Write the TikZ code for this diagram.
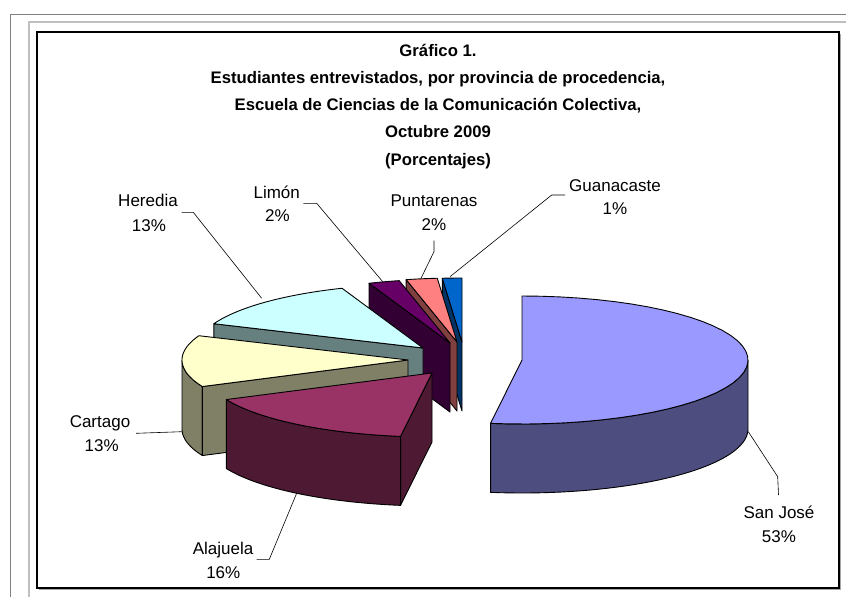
\documentclass[tikz,border=0pt]{standalone}
\usepackage{fontspec}
\setmainfont{Liberation Sans}
\definecolor{sjT}{HTML}{9999FF}\definecolor{sjS}{HTML}{4D4D80}
\definecolor{alT}{HTML}{993366}\definecolor{alS}{HTML}{4D1933}
\definecolor{caT}{HTML}{FFFFCC}\definecolor{caS}{HTML}{808066}
\definecolor{heT}{HTML}{CCFFFF}\definecolor{heS}{HTML}{668080}
\definecolor{liT}{HTML}{660066}\definecolor{liS}{HTML}{330033}
\definecolor{puT}{HTML}{FF8080}\definecolor{puS}{HTML}{804040}
\definecolor{guT}{HTML}{0066CC}\definecolor{guS}{HTML}{003366}
\def\RX{226}\def\RY{64}\def\D{69}
\tikzset{
  edge/.style={draw=black, line width=0.9pt, line join=round},
  leader/.style={draw=black, line width=0.6pt},
  lbl/.style={font=\fontsize{17}{20}\selectfont, anchor=base, inner sep=0pt},
  ttl/.style={font=\bfseries\fontsize{16.7}{20}\selectfont, anchor=base, inner sep=0pt},
}
\newcommand\sliceTop[5]{\filldraw[edge,fill=#5] (#1,#2) -- plot[domain=#3:#4,samples=40] ({#1+\RX*cos(\x)},{#2-\RY*sin(\x)}) -- cycle;}
\newcommand\sliceRad[4]{\filldraw[edge,fill=#4] (#1,#2) -- ({#1+\RX*cos(#3)},{#2-\RY*sin(#3)}) -- ++(0,\D) -- (#1,{#2+\D}) -- cycle;}
\newcommand\sliceSide[5]{\filldraw[edge,fill=#5] plot[domain=#3:#4,samples=40] ({#1+\RX*cos(\x)},{#2-\RY*sin(\x)}) -- plot[domain=#4:#3,samples=40] ({#1+\RX*cos(\x)},{#2+\D-\RY*sin(\x)}) -- cycle;}
\begin{document}
\begin{tikzpicture}[x=1pt,y=-1pt]
\useasboundingbox (0,0) rectangle (846,597);
\fill[white] (0,0) rectangle (846,597);
% outer frames
\draw[color=black!50, line width=1pt] (10.7,597) -- (10.7,14) -- (846,14);
\draw[color=black!25, line width=1.6pt] (28.7,597) -- (28.7,21.7) -- (846,21.7);
\draw[color=black!35, line width=1.2pt] (38.5,589.5) -- (840.5,589.5) -- (840.5,33.5);
\draw[black, line width=1.3pt] (37,32) rectangle (839,588);
% title
\node[ttl] (t1) at (438,56) {Gráfico 1.};
\node[ttl] (t2) at (438,83.3) {Estudiantes entrevistados, por provincia de procedencia,};
\node[ttl] (t3) at (438,110.6) {Escuela de Ciencias de la Comunicación Colectiva,};
\node[ttl] (t4) at (438,137.9) {Octubre 2009};
\node[ttl] (t5) at (438,165.2) {(Porcentajes)};
% labels
\node[lbl] (lHe) at (148,206.5) {Heredia};
\node[lbl] (pHe) at (149,231.5) {13\%};
\node[lbl] (lLi) at (276.7,198.3) {Limón};
\node[lbl] (pLi) at (277.5,221.7) {2\%};
\node[lbl] (lPu) at (434,206) {Puntarenas};
\node[lbl] (pPu) at (434,230) {2\%};
\node[lbl] (lGu) at (615,191) {Guanacaste};
\node[lbl] (pGu) at (615,214.5) {1\%};
\node[lbl] (lCa) at (100,427) {Cartago};
\node[lbl] (pCa) at (101.7,451.7) {13\%};
\node[lbl] (lAl) at (223,554) {Alajuela};
\node[lbl] (pAl) at (223.3,578.3) {16\%};
\node[lbl] (lSJ) at (779,518.3) {San José};
\node[lbl] (pSJ) at (779,542.7) {53\%};
% leader lines
\coordinate (heA) at (181.7,212.3); \coordinate (heB) at (193.3,212.3); \coordinate (heC) at (261.7,298.3);
\coordinate (liA) at (303.3,203.3); \coordinate (liB) at (316.7,203.3); \coordinate (liC) at (382.7,281.7);
\coordinate (puA) at (434,240.5); \coordinate (puB) at (434,251.7); \coordinate (puC) at (421,278.3);
\coordinate (guA) at (565,195); \coordinate (guB) at (551.7,195); \coordinate (guC) at (450,276.7);
\coordinate (caA) at (136,433.3); \coordinate (caC) at (181.7,431.7);
\coordinate (alA) at (256.7,559.3); \coordinate (alB) at (269.3,559.3); \coordinate (alC) at (297.3,491.7);
\coordinate (sjC) at (748.3,431.7); \coordinate (sjB) at (777.7,476.7); \coordinate (sjA) at (778.5,495);
\draw[leader] (heA) -- (heB) -- (heC);
\draw[leader] (liA) -- (liB) -- (liC);
\draw[leader] (puA) -- (puB) -- (puC);
\draw[leader] (guA) -- (guB) -- (guC);
\draw[leader] (caA) -- (caC);
\draw[leader] (alA) -- (alB) -- (alC);
\draw[leader] (sjC) -- (sjB) -- (sjA);
% Guanacaste
\sliceRad{462}{342}{95}{guS}
\sliceTop{462}{342}{90}{95}{guT}
% Puntarenas
\sliceRad{457}{342}{103}{puS}
\sliceTop{457}{342}{95}{103}{puT}
% Limon
\sliceRad{450}{343}{111}{liS}
\sliceTop{450}{343}{103}{111}{liT}
% Heredia
\sliceRad{423}{348}{157.7}{heS}
\sliceTop{423}{348}{111}{157.7}{heT}
% Cartago
\sliceSide{408}{360}{180}{204.5}{caS}
\sliceRad{408}{360}{204.5}{caS}
\sliceTop{408}{360}{157.7}{204.5}{caT}
% Alajuela
\sliceSide{432}{373}{204.5}{262}{alS}
\sliceRad{432}{373}{262}{alS}
\sliceTop{432}{373}{204.5}{262}{alT}
% San Jose
\sliceSide{522}{360}{262}{360}{sjS}
\sliceTop{522}{360}{262}{450}{sjT}
\end{tikzpicture}
\end{document}
